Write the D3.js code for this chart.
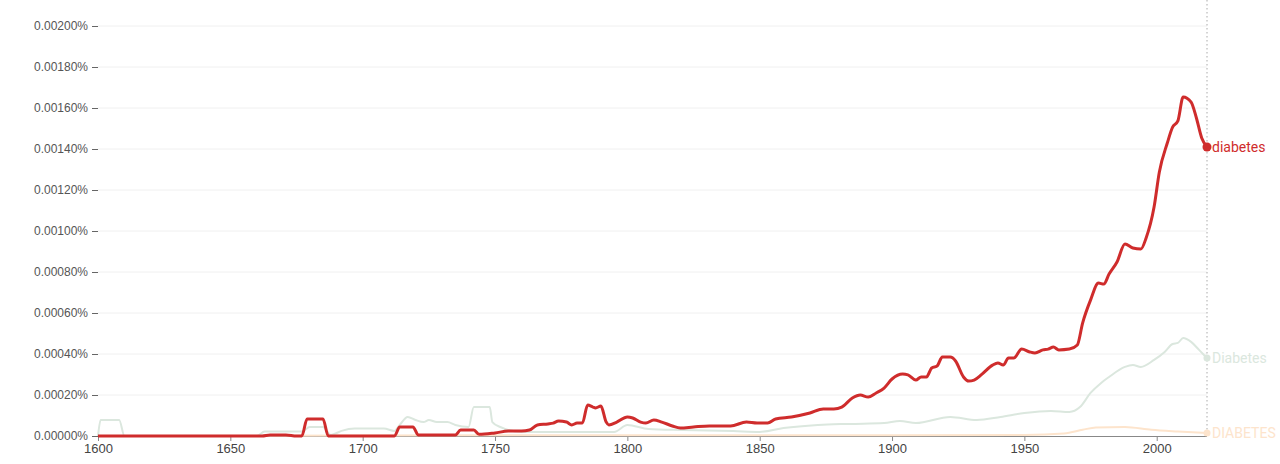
<!DOCTYPE html>
<html>
<head>
<meta charset="utf-8">
<script src="https://cdn.jsdelivr.net/npm/d3@7"></script>
<style>
  body { margin: 0; background: #fff; }
  svg { font-family: Roboto, "Noto Sans", sans-serif; }
</style>
</head>
<body>
<svg id="chart"></svg>
<script>
// values are in percent (share of all words)
var diabetesLower = [
  [1600, 0], [1662, 0], [1665, 0.000005], [1671, 0.000005], [1675, 0], [1677, 0],
  [1679, 0.000083], [1685, 0.000083], [1687, 0], [1712, 0],
  [1714, 0.000044], [1719, 0.000044], [1721, 0.000005], [1735, 0.000005],
  [1737, 0.000029], [1742, 0.000029], [1744, 0.000008], [1750, 0.000015],
  [1755, 0.000024], [1760, 0.000024], [1763, 0.000029], [1766, 0.000054],
  [1770, 0.000059], [1772, 0.000063], [1774, 0.000073], [1777, 0.000068],
  [1779, 0.000054], [1781, 0.000063], [1783, 0.000063], [1785, 0.000151],
  [1787, 0.000141], [1788, 0.000137], [1790, 0.000146], [1792, 0.000068],
  [1793, 0.000054], [1796, 0.000068], [1800, 0.000093], [1802, 0.000088],
  [1805, 0.000068], [1807, 0.000063], [1810, 0.000078], [1813, 0.000068],
  [1817, 0.000049], [1820, 0.000039], [1825, 0.000044], [1831, 0.000049],
  [1839, 0.000049], [1845, 0.000068], [1849, 0.000063], [1853, 0.000063],
  [1856, 0.000083], [1862, 0.000093], [1869, 0.000112], [1874, 0.000132],
  [1878, 0.000132], [1881, 0.000141], [1885, 0.000185], [1888, 0.0002],
  [1891, 0.00019], [1894, 0.00021], [1897, 0.000234], [1900, 0.000278],
  [1904, 0.000302], [1906, 0.000298], [1909, 0.000273], [1911, 0.000288],
  [1913, 0.000288], [1915, 0.000332], [1917, 0.000341], [1919, 0.000385],
  [1922, 0.000385], [1924, 0.000366], [1927, 0.000288], [1929, 0.000268],
  [1931, 0.000273], [1934, 0.000302], [1938, 0.000346], [1940, 0.000356],
  [1942, 0.000346], [1944, 0.00038], [1946, 0.00038], [1949, 0.000424],
  [1952, 0.00041], [1954, 0.000405], [1957, 0.00042], [1959, 0.000424],
  [1961, 0.000434], [1963, 0.00042], [1967, 0.000424], [1970, 0.000444],
  [1972, 0.000551], [1975, 0.000663], [1978, 0.000746], [1980, 0.000741],
  [1982, 0.00079], [1985, 0.000849], [1988, 0.000937], [1991, 0.000917],
  [1994, 0.000912], [1996, 0.000966], [1999, 0.001117], [2001, 0.001288],
  [2004, 0.001429], [2006, 0.001507], [2008, 0.001537], [2010, 0.001654],
  [2013, 0.001629], [2015, 0.001551], [2017, 0.001454], [2019, 0.00141]
];

var diabetesCap = [
  [1600, 0], [1601, 0.000078], [1608, 0.000078], [1610, 0], [1660, 0],
  [1663, 0.000022], [1677, 0.000022], [1680, 0.000044], [1685, 0.000044],
  [1688, 0.000005], [1692, 0.000025], [1697, 0.000036], [1708, 0.000036],
  [1712, 0.000025], [1714, 0.000054], [1717, 0.000093], [1720, 0.000078],
  [1723, 0.000068], [1725, 0.000078], [1728, 0.000068], [1732, 0.000068],
  [1735, 0.000054], [1740, 0.000044], [1742, 0.000141], [1748, 0.000141],
  [1749, 0.000068], [1752, 0.000044], [1760, 0.000020], [1782, 0.000020],
  [1795, 0.000020], [1800, 0.000054], [1808, 0.000034], [1821, 0.000029],
  [1840, 0.000024], [1850, 0.000020], [1859, 0.000039], [1872, 0.000054],
  [1884, 0.000059], [1897, 0.000063], [1903, 0.000073], [1909, 0.000063],
  [1922, 0.000093], [1932, 0.000078], [1941, 0.000093], [1950, 0.000112],
  [1960, 0.000122], [1967, 0.000117], [1971, 0.000141], [1975, 0.000210],
  [1979, 0.000259], [1982, 0.000288], [1988, 0.000337], [1991, 0.000346],
  [1994, 0.000337], [1999, 0.000371], [2003, 0.00041], [2006, 0.000449],
  [2008, 0.000454], [2010, 0.000478], [2013, 0.000459], [2016, 0.000420],
  [2019, 0.000380]
];

var diabetesUpper = [
  [1600, 0], [1700, 0.000003], [1800, 0.000004], [1900, 0.000004],
  [1950, 0.000005], [1965, 0.000012], [1972, 0.00003], [1977, 0.000042],
  [1988, 0.000044], [1998, 0.000030], [2008, 0.000022], [2019, 0.000015]
];

var series = [
  { name: "DIABETES", data: diabetesUpper, color: "#fde4cc", width: 2 },
  { name: "Diabetes", data: diabetesCap, color: "#dbe7de", width: 2 },
  { name: "diabetes", data: diabetesLower, color: "#cf2c2c", width: 3 }
];

var xTicks = [1600, 1650, 1700, 1750, 1800, 1850, 1900, 1950, 2000];
var yTicks = [0, 0.0002, 0.0004, 0.0006, 0.0008, 0.001, 0.0012, 0.0014, 0.0016, 0.0018, 0.002];

var width = 1280, height = 464;
var marginLeft = 98, marginRight = 1207, marginTop = 26, marginBottom = 436;

var svg = d3.select("#chart")
    .attr("width", width)
    .attr("height", height);

var x = d3.scaleLinear().domain([1600, 2019]).range([marginLeft, marginRight]);
var y = d3.scaleLinear().domain([0, 0.002]).range([marginBottom, marginTop]);

// grid
svg.append("g")
    .selectAll("line")
    .data(yTicks.slice(1))
    .enter()
    .append("line")
    .attr("x1", marginLeft)
    .attr("x2", marginRight)
    .attr("y1", function (d) { return y(d); })
    .attr("y2", function (d) { return y(d); })
    .attr("stroke", "#f0f0f0");

var yAxis = d3.axisLeft(y)
    .tickValues(yTicks)
    .tickSize(6)
    .tickPadding(4)
    .tickFormat(function (d) { return d3.format(".5f")(d) + "%"; });

var yg = svg.append("g")
    .attr("transform", "translate(" + marginLeft + ",0)")
    .call(yAxis);
yg.select(".domain").remove();
yg.selectAll("line").attr("stroke", "#666");
yg.selectAll("text").attr("fill", "#555").style("font-size", "12px");

var xAxis = d3.axisBottom(x)
    .tickValues(xTicks)
    .tickSize(5)
    .tickPadding(3)
    .tickFormat(d3.format("d"));

var xg = svg.append("g")
    .attr("transform", "translate(0," + marginBottom + ")")
    .call(xAxis);
xg.select(".domain").attr("stroke", "#888").attr("d", "M" + marginLeft + ",0.5H" + marginRight);
xg.selectAll("line").attr("stroke", "#888");
xg.selectAll("text").attr("fill", "#444").style("font-size", "13px");

// dotted marker at the last year
svg.append("line")
    .attr("x1", x(2019))
    .attr("x2", x(2019))
    .attr("y1", 0)
    .attr("y2", marginBottom)
    .attr("stroke", "#aaa")
    .attr("stroke-dasharray", "1.5,2.5");

var line = d3.line()
    .x(function (d) { return x(d[0]); })
    .y(function (d) { return y(d[1]); })
    .curve(d3.curveMonotoneX);

series.forEach(function (s) {
    svg.append("path")
        .datum(s.data)
        .attr("fill", "none")
        .attr("stroke", s.color)
        .attr("stroke-width", s.width)
        .attr("stroke-linejoin", "round")
        .attr("d", line);

    var last = s.data[s.data.length - 1];
    svg.append("circle")
        .attr("cx", x(last[0]))
        .attr("cy", y(last[1]))
        .attr("r", s.width == 3 ? 4.5 : 3.5)
        .attr("fill", s.color);

    svg.append("text")
        .attr("x", x(last[0]) + 5)
        .attr("y", y(last[1]))
        .attr("dy", "0.35em")
        .attr("fill", s.color)
        .style("font-size", "14px")
        .text(s.name);
});
</script>
</body>
</html>
